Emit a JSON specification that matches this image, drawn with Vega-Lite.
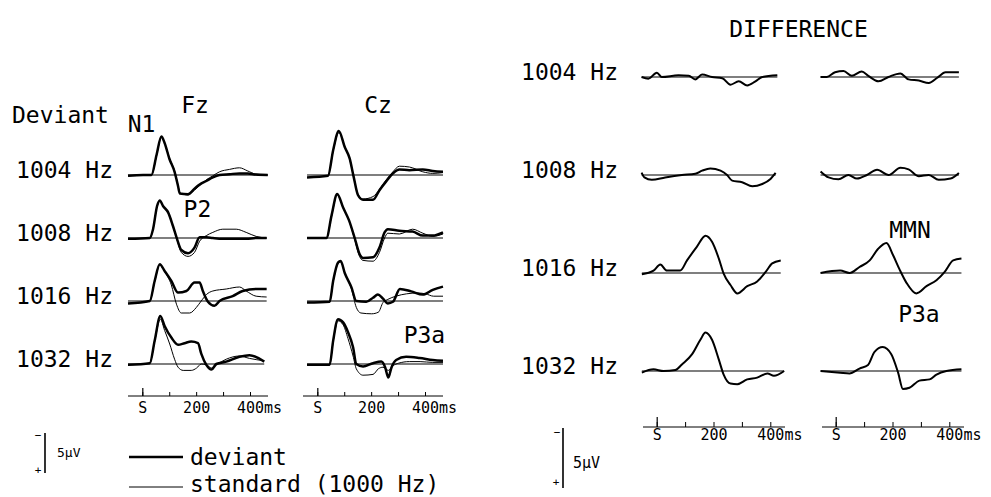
{
"$schema": "https://vega.github.io/schema/vega-lite/v6.json",
"padding": 0,
"background": "white",
"bounds": "flush",
"spacing": 0,
"config": {
  "view": {"stroke": null},
  "font": "DejaVu Sans Mono",
  "text": {"font": "DejaVu Sans Mono", "color": "black", "fontSize": 23}
},
"datasets": {
"erp": [
{"dev":"1004 Hz","elec":"Fz","cond":"deviant","t":-55,"v":0.1},{"dev":"1004 Hz","elec":"Fz","cond":"deviant","t":1,"v":0},{"dev":"1004 Hz","elec":"Fz","cond":"deviant","t":32,"v":0},{"dev":"1004 Hz","elec":"Fz","cond":"deviant","t":51,"v":-2.5},{"dev":"1004 Hz","elec":"Fz","cond":"deviant","t":69,"v":-4.8},{"dev":"1004 Hz","elec":"Fz","cond":"deviant","t":81,"v":-4.0},{"dev":"1004 Hz","elec":"Fz","cond":"deviant","t":99,"v":-2.0},{"dev":"1004 Hz","elec":"Fz","cond":"deviant","t":118,"v":-0.4},{"dev":"1004 Hz","elec":"Fz","cond":"deviant","t":131,"v":1.4},{"dev":"1004 Hz","elec":"Fz","cond":"deviant","t":137,"v":2.3},{"dev":"1004 Hz","elec":"Fz","cond":"deviant","t":168,"v":2.4},{"dev":"1004 Hz","elec":"Fz","cond":"deviant","t":192,"v":1.7},{"dev":"1004 Hz","elec":"Fz","cond":"deviant","t":211,"v":1.2},{"dev":"1004 Hz","elec":"Fz","cond":"deviant","t":236,"v":0.75},{"dev":"1004 Hz","elec":"Fz","cond":"deviant","t":260,"v":0.3},{"dev":"1004 Hz","elec":"Fz","cond":"deviant","t":285,"v":0},{"dev":"1004 Hz","elec":"Fz","cond":"deviant","t":322,"v":-0.1},{"dev":"1004 Hz","elec":"Fz","cond":"deviant","t":359,"v":-0.2},{"dev":"1004 Hz","elec":"Fz","cond":"deviant","t":390,"v":-0.2},{"dev":"1004 Hz","elec":"Fz","cond":"deviant","t":420,"v":-0.05},{"dev":"1004 Hz","elec":"Fz","cond":"deviant","t":464,"v":0},
{"dev":"1004 Hz","elec":"Fz","cond":"standard","t":-55,"v":0.1},{"dev":"1004 Hz","elec":"Fz","cond":"standard","t":1,"v":0},{"dev":"1004 Hz","elec":"Fz","cond":"standard","t":32,"v":0},{"dev":"1004 Hz","elec":"Fz","cond":"standard","t":51,"v":-2.4},{"dev":"1004 Hz","elec":"Fz","cond":"standard","t":69,"v":-4.7},{"dev":"1004 Hz","elec":"Fz","cond":"standard","t":81,"v":-4.0},{"dev":"1004 Hz","elec":"Fz","cond":"standard","t":99,"v":-2.1},{"dev":"1004 Hz","elec":"Fz","cond":"standard","t":118,"v":-0.5},{"dev":"1004 Hz","elec":"Fz","cond":"standard","t":131,"v":1.3},{"dev":"1004 Hz","elec":"Fz","cond":"standard","t":137,"v":2.2},{"dev":"1004 Hz","elec":"Fz","cond":"standard","t":168,"v":2.5},{"dev":"1004 Hz","elec":"Fz","cond":"standard","t":192,"v":1.9},{"dev":"1004 Hz","elec":"Fz","cond":"standard","t":211,"v":1.3},{"dev":"1004 Hz","elec":"Fz","cond":"standard","t":236,"v":0.6},{"dev":"1004 Hz","elec":"Fz","cond":"standard","t":260,"v":0.1},{"dev":"1004 Hz","elec":"Fz","cond":"standard","t":285,"v":-0.4},{"dev":"1004 Hz","elec":"Fz","cond":"standard","t":322,"v":-0.7},{"dev":"1004 Hz","elec":"Fz","cond":"standard","t":359,"v":-0.9},{"dev":"1004 Hz","elec":"Fz","cond":"standard","t":390,"v":-0.5},{"dev":"1004 Hz","elec":"Fz","cond":"standard","t":420,"v":-0.1},{"dev":"1004 Hz","elec":"Fz","cond":"standard","t":464,"v":0},
{"dev":"1008 Hz","elec":"Fz","cond":"deviant","t":-55,"v":0.1},{"dev":"1008 Hz","elec":"Fz","cond":"deviant","t":26,"v":0},{"dev":"1008 Hz","elec":"Fz","cond":"deviant","t":38,"v":-1.1},{"dev":"1008 Hz","elec":"Fz","cond":"deviant","t":53,"v":-4.0},{"dev":"1008 Hz","elec":"Fz","cond":"deviant","t":63,"v":-4.7},{"dev":"1008 Hz","elec":"Fz","cond":"deviant","t":75,"v":-4.0},{"dev":"1008 Hz","elec":"Fz","cond":"deviant","t":94,"v":-3.2},{"dev":"1008 Hz","elec":"Fz","cond":"deviant","t":112,"v":-1.5},{"dev":"1008 Hz","elec":"Fz","cond":"deviant","t":127,"v":0.1},{"dev":"1008 Hz","elec":"Fz","cond":"deviant","t":143,"v":1.5},{"dev":"1008 Hz","elec":"Fz","cond":"deviant","t":168,"v":1.9},{"dev":"1008 Hz","elec":"Fz","cond":"deviant","t":192,"v":1.2},{"dev":"1008 Hz","elec":"Fz","cond":"deviant","t":211,"v":-0.1},{"dev":"1008 Hz","elec":"Fz","cond":"deviant","t":236,"v":-0.1},{"dev":"1008 Hz","elec":"Fz","cond":"deviant","t":260,"v":0},{"dev":"1008 Hz","elec":"Fz","cond":"deviant","t":297,"v":0.1},{"dev":"1008 Hz","elec":"Fz","cond":"deviant","t":347,"v":0.1},{"dev":"1008 Hz","elec":"Fz","cond":"deviant","t":384,"v":0.1},{"dev":"1008 Hz","elec":"Fz","cond":"deviant","t":421,"v":0},{"dev":"1008 Hz","elec":"Fz","cond":"deviant","t":460,"v":0},
{"dev":"1008 Hz","elec":"Fz","cond":"standard","t":-55,"v":0.1},{"dev":"1008 Hz","elec":"Fz","cond":"standard","t":26,"v":0},{"dev":"1008 Hz","elec":"Fz","cond":"standard","t":38,"v":-1.1},{"dev":"1008 Hz","elec":"Fz","cond":"standard","t":53,"v":-4.0},{"dev":"1008 Hz","elec":"Fz","cond":"standard","t":63,"v":-4.7},{"dev":"1008 Hz","elec":"Fz","cond":"standard","t":75,"v":-4.0},{"dev":"1008 Hz","elec":"Fz","cond":"standard","t":94,"v":-3.2},{"dev":"1008 Hz","elec":"Fz","cond":"standard","t":112,"v":-1.5},{"dev":"1008 Hz","elec":"Fz","cond":"standard","t":127,"v":0.2},{"dev":"1008 Hz","elec":"Fz","cond":"standard","t":143,"v":1.8},{"dev":"1008 Hz","elec":"Fz","cond":"standard","t":168,"v":2.3},{"dev":"1008 Hz","elec":"Fz","cond":"standard","t":192,"v":1.8},{"dev":"1008 Hz","elec":"Fz","cond":"standard","t":211,"v":0.4},{"dev":"1008 Hz","elec":"Fz","cond":"standard","t":236,"v":-0.3},{"dev":"1008 Hz","elec":"Fz","cond":"standard","t":260,"v":-0.7},{"dev":"1008 Hz","elec":"Fz","cond":"standard","t":297,"v":-1.1},{"dev":"1008 Hz","elec":"Fz","cond":"standard","t":347,"v":-1.1},{"dev":"1008 Hz","elec":"Fz","cond":"standard","t":384,"v":-0.7},{"dev":"1008 Hz","elec":"Fz","cond":"standard","t":421,"v":-0.2},{"dev":"1008 Hz","elec":"Fz","cond":"standard","t":460,"v":0},
{"dev":"1016 Hz","elec":"Fz","cond":"deviant","t":-55,"v":0.3},{"dev":"1016 Hz","elec":"Fz","cond":"deviant","t":26,"v":0},{"dev":"1016 Hz","elec":"Fz","cond":"deviant","t":44,"v":-2.5},{"dev":"1016 Hz","elec":"Fz","cond":"deviant","t":63,"v":-4.6},{"dev":"1016 Hz","elec":"Fz","cond":"deviant","t":81,"v":-3.75},{"dev":"1016 Hz","elec":"Fz","cond":"deviant","t":106,"v":-2.5},{"dev":"1016 Hz","elec":"Fz","cond":"deviant","t":131,"v":-1.05},{"dev":"1016 Hz","elec":"Fz","cond":"deviant","t":162,"v":-1.25},{"dev":"1016 Hz","elec":"Fz","cond":"deviant","t":192,"v":-2.3},{"dev":"1016 Hz","elec":"Fz","cond":"deviant","t":211,"v":-2.3},{"dev":"1016 Hz","elec":"Fz","cond":"deviant","t":223,"v":-1.25},{"dev":"1016 Hz","elec":"Fz","cond":"deviant","t":242,"v":0.1},{"dev":"1016 Hz","elec":"Fz","cond":"deviant","t":266,"v":0.6},{"dev":"1016 Hz","elec":"Fz","cond":"deviant","t":285,"v":0},{"dev":"1016 Hz","elec":"Fz","cond":"deviant","t":334,"v":-0.6},{"dev":"1016 Hz","elec":"Fz","cond":"deviant","t":371,"v":-1.25},{"dev":"1016 Hz","elec":"Fz","cond":"deviant","t":421,"v":-1.5},{"dev":"1016 Hz","elec":"Fz","cond":"deviant","t":460,"v":-1.5},
{"dev":"1016 Hz","elec":"Fz","cond":"standard","t":-55,"v":0.3},{"dev":"1016 Hz","elec":"Fz","cond":"standard","t":26,"v":0},{"dev":"1016 Hz","elec":"Fz","cond":"standard","t":44,"v":-2.4},{"dev":"1016 Hz","elec":"Fz","cond":"standard","t":63,"v":-4.5},{"dev":"1016 Hz","elec":"Fz","cond":"standard","t":81,"v":-3.7},{"dev":"1016 Hz","elec":"Fz","cond":"standard","t":106,"v":-2.0},{"dev":"1016 Hz","elec":"Fz","cond":"standard","t":125,"v":0.4},{"dev":"1016 Hz","elec":"Fz","cond":"standard","t":143,"v":1.5},{"dev":"1016 Hz","elec":"Fz","cond":"standard","t":174,"v":1.5},{"dev":"1016 Hz","elec":"Fz","cond":"standard","t":199,"v":0.8},{"dev":"1016 Hz","elec":"Fz","cond":"standard","t":217,"v":0},{"dev":"1016 Hz","elec":"Fz","cond":"standard","t":236,"v":-0.8},{"dev":"1016 Hz","elec":"Fz","cond":"standard","t":260,"v":-1.25},{"dev":"1016 Hz","elec":"Fz","cond":"standard","t":310,"v":-1.5},{"dev":"1016 Hz","elec":"Fz","cond":"standard","t":359,"v":-1.75},{"dev":"1016 Hz","elec":"Fz","cond":"standard","t":384,"v":-1.25},{"dev":"1016 Hz","elec":"Fz","cond":"standard","t":421,"v":-0.6},{"dev":"1016 Hz","elec":"Fz","cond":"standard","t":460,"v":-0.5},
{"dev":"1032 Hz","elec":"Fz","cond":"deviant","t":-55,"v":0.1},{"dev":"1032 Hz","elec":"Fz","cond":"deviant","t":26,"v":-0.1},{"dev":"1032 Hz","elec":"Fz","cond":"deviant","t":44,"v":-2.9},{"dev":"1032 Hz","elec":"Fz","cond":"deviant","t":65,"v":-6.0},{"dev":"1032 Hz","elec":"Fz","cond":"deviant","t":81,"v":-4.75},{"dev":"1032 Hz","elec":"Fz","cond":"deviant","t":106,"v":-3.3},{"dev":"1032 Hz","elec":"Fz","cond":"deviant","t":131,"v":-2.4},{"dev":"1032 Hz","elec":"Fz","cond":"deviant","t":155,"v":-2.6},{"dev":"1032 Hz","elec":"Fz","cond":"deviant","t":180,"v":-2.8},{"dev":"1032 Hz","elec":"Fz","cond":"deviant","t":205,"v":-2.6},{"dev":"1032 Hz","elec":"Fz","cond":"deviant","t":217,"v":-1.3},{"dev":"1032 Hz","elec":"Fz","cond":"deviant","t":236,"v":0.1},{"dev":"1032 Hz","elec":"Fz","cond":"deviant","t":255,"v":0.7},{"dev":"1032 Hz","elec":"Fz","cond":"deviant","t":273,"v":0},{"dev":"1032 Hz","elec":"Fz","cond":"deviant","t":310,"v":-0.3},{"dev":"1032 Hz","elec":"Fz","cond":"deviant","t":359,"v":-0.9},{"dev":"1032 Hz","elec":"Fz","cond":"deviant","t":396,"v":-1.1},{"dev":"1032 Hz","elec":"Fz","cond":"deviant","t":451,"v":-0.3},
{"dev":"1032 Hz","elec":"Fz","cond":"standard","t":-55,"v":0.1},{"dev":"1032 Hz","elec":"Fz","cond":"standard","t":26,"v":-0.1},{"dev":"1032 Hz","elec":"Fz","cond":"standard","t":44,"v":-2.8},{"dev":"1032 Hz","elec":"Fz","cond":"standard","t":65,"v":-5.6},{"dev":"1032 Hz","elec":"Fz","cond":"standard","t":81,"v":-4.2},{"dev":"1032 Hz","elec":"Fz","cond":"standard","t":100,"v":-2.5},{"dev":"1032 Hz","elec":"Fz","cond":"standard","t":118,"v":-0.6},{"dev":"1032 Hz","elec":"Fz","cond":"standard","t":131,"v":0.4},{"dev":"1032 Hz","elec":"Fz","cond":"standard","t":150,"v":0.8},{"dev":"1032 Hz","elec":"Fz","cond":"standard","t":180,"v":0.8},{"dev":"1032 Hz","elec":"Fz","cond":"standard","t":200,"v":0.5},{"dev":"1032 Hz","elec":"Fz","cond":"standard","t":217,"v":0},{"dev":"1032 Hz","elec":"Fz","cond":"standard","t":236,"v":0.1},{"dev":"1032 Hz","elec":"Fz","cond":"standard","t":255,"v":0.5},{"dev":"1032 Hz","elec":"Fz","cond":"standard","t":273,"v":0.1},{"dev":"1032 Hz","elec":"Fz","cond":"standard","t":310,"v":-0.6},{"dev":"1032 Hz","elec":"Fz","cond":"standard","t":359,"v":-1.0},{"dev":"1032 Hz","elec":"Fz","cond":"standard","t":396,"v":-0.7},{"dev":"1032 Hz","elec":"Fz","cond":"standard","t":451,"v":-0.4},
{"dev":"1004 Hz","elec":"Cz","cond":"deviant","t":-40,"v":0.3},{"dev":"1004 Hz","elec":"Cz","cond":"deviant","t":38,"v":0.1},{"dev":"1004 Hz","elec":"Cz","cond":"deviant","t":57,"v":-3.1},{"dev":"1004 Hz","elec":"Cz","cond":"deviant","t":78,"v":-5.5},{"dev":"1004 Hz","elec":"Cz","cond":"deviant","t":100,"v":-3.5},{"dev":"1004 Hz","elec":"Cz","cond":"deviant","t":118,"v":-2.1},{"dev":"1004 Hz","elec":"Cz","cond":"deviant","t":133,"v":0.2},{"dev":"1004 Hz","elec":"Cz","cond":"deviant","t":149,"v":2.5},{"dev":"1004 Hz","elec":"Cz","cond":"deviant","t":168,"v":3.1},{"dev":"1004 Hz","elec":"Cz","cond":"deviant","t":205,"v":3.1},{"dev":"1004 Hz","elec":"Cz","cond":"deviant","t":229,"v":1.9},{"dev":"1004 Hz","elec":"Cz","cond":"deviant","t":254,"v":0.8},{"dev":"1004 Hz","elec":"Cz","cond":"deviant","t":279,"v":-0.2},{"dev":"1004 Hz","elec":"Cz","cond":"deviant","t":303,"v":-0.7},{"dev":"1004 Hz","elec":"Cz","cond":"deviant","t":340,"v":-0.6},{"dev":"1004 Hz","elec":"Cz","cond":"deviant","t":390,"v":-0.7},{"dev":"1004 Hz","elec":"Cz","cond":"deviant","t":427,"v":-0.5},{"dev":"1004 Hz","elec":"Cz","cond":"deviant","t":465,"v":-0.4},
{"dev":"1004 Hz","elec":"Cz","cond":"standard","t":-40,"v":0.3},{"dev":"1004 Hz","elec":"Cz","cond":"standard","t":38,"v":0.1},{"dev":"1004 Hz","elec":"Cz","cond":"standard","t":57,"v":-3.0},{"dev":"1004 Hz","elec":"Cz","cond":"standard","t":78,"v":-5.3},{"dev":"1004 Hz","elec":"Cz","cond":"standard","t":100,"v":-3.6},{"dev":"1004 Hz","elec":"Cz","cond":"standard","t":118,"v":-2.0},{"dev":"1004 Hz","elec":"Cz","cond":"standard","t":133,"v":0.2},{"dev":"1004 Hz","elec":"Cz","cond":"standard","t":149,"v":2.4},{"dev":"1004 Hz","elec":"Cz","cond":"standard","t":168,"v":3.0},{"dev":"1004 Hz","elec":"Cz","cond":"standard","t":205,"v":2.7},{"dev":"1004 Hz","elec":"Cz","cond":"standard","t":229,"v":1.8},{"dev":"1004 Hz","elec":"Cz","cond":"standard","t":254,"v":0.6},{"dev":"1004 Hz","elec":"Cz","cond":"standard","t":279,"v":-0.4},{"dev":"1004 Hz","elec":"Cz","cond":"standard","t":303,"v":-1.1},{"dev":"1004 Hz","elec":"Cz","cond":"standard","t":340,"v":-1.0},{"dev":"1004 Hz","elec":"Cz","cond":"standard","t":390,"v":-0.4},{"dev":"1004 Hz","elec":"Cz","cond":"standard","t":427,"v":-0.2},{"dev":"1004 Hz","elec":"Cz","cond":"standard","t":465,"v":-0.3},
{"dev":"1008 Hz","elec":"Cz","cond":"deviant","t":-40,"v":0},{"dev":"1008 Hz","elec":"Cz","cond":"deviant","t":32,"v":0},{"dev":"1008 Hz","elec":"Cz","cond":"deviant","t":51,"v":-2.8},{"dev":"1008 Hz","elec":"Cz","cond":"deviant","t":72,"v":-5.5},{"dev":"1008 Hz","elec":"Cz","cond":"deviant","t":94,"v":-3.8},{"dev":"1008 Hz","elec":"Cz","cond":"deviant","t":116,"v":-2.2},{"dev":"1008 Hz","elec":"Cz","cond":"deviant","t":137,"v":0},{"dev":"1008 Hz","elec":"Cz","cond":"deviant","t":155,"v":2.0},{"dev":"1008 Hz","elec":"Cz","cond":"deviant","t":168,"v":2.5},{"dev":"1008 Hz","elec":"Cz","cond":"deviant","t":205,"v":2.4},{"dev":"1008 Hz","elec":"Cz","cond":"deviant","t":229,"v":1.2},{"dev":"1008 Hz","elec":"Cz","cond":"deviant","t":248,"v":-0.7},{"dev":"1008 Hz","elec":"Cz","cond":"deviant","t":260,"v":-1.1},{"dev":"1008 Hz","elec":"Cz","cond":"deviant","t":303,"v":-0.9},{"dev":"1008 Hz","elec":"Cz","cond":"deviant","t":352,"v":-0.8},{"dev":"1008 Hz","elec":"Cz","cond":"deviant","t":390,"v":-0.3},{"dev":"1008 Hz","elec":"Cz","cond":"deviant","t":427,"v":-0.3},{"dev":"1008 Hz","elec":"Cz","cond":"deviant","t":465,"v":-0.7},
{"dev":"1008 Hz","elec":"Cz","cond":"standard","t":-40,"v":0},{"dev":"1008 Hz","elec":"Cz","cond":"standard","t":32,"v":0},{"dev":"1008 Hz","elec":"Cz","cond":"standard","t":51,"v":-2.7},{"dev":"1008 Hz","elec":"Cz","cond":"standard","t":72,"v":-5.4},{"dev":"1008 Hz","elec":"Cz","cond":"standard","t":94,"v":-3.8},{"dev":"1008 Hz","elec":"Cz","cond":"standard","t":116,"v":-2.2},{"dev":"1008 Hz","elec":"Cz","cond":"standard","t":137,"v":0.2},{"dev":"1008 Hz","elec":"Cz","cond":"standard","t":155,"v":2.3},{"dev":"1008 Hz","elec":"Cz","cond":"standard","t":168,"v":2.8},{"dev":"1008 Hz","elec":"Cz","cond":"standard","t":205,"v":2.9},{"dev":"1008 Hz","elec":"Cz","cond":"standard","t":229,"v":1.8},{"dev":"1008 Hz","elec":"Cz","cond":"standard","t":248,"v":0},{"dev":"1008 Hz","elec":"Cz","cond":"standard","t":260,"v":-0.6},{"dev":"1008 Hz","elec":"Cz","cond":"standard","t":303,"v":-0.5},{"dev":"1008 Hz","elec":"Cz","cond":"standard","t":352,"v":-1.1},{"dev":"1008 Hz","elec":"Cz","cond":"standard","t":390,"v":-0.6},{"dev":"1008 Hz","elec":"Cz","cond":"standard","t":427,"v":-0.2},{"dev":"1008 Hz","elec":"Cz","cond":"standard","t":465,"v":-0.5},
{"dev":"1016 Hz","elec":"Cz","cond":"deviant","t":-40,"v":0.2},{"dev":"1016 Hz","elec":"Cz","cond":"deviant","t":44,"v":0.1},{"dev":"1016 Hz","elec":"Cz","cond":"deviant","t":57,"v":-2.5},{"dev":"1016 Hz","elec":"Cz","cond":"deviant","t":75,"v":-4.8},{"dev":"1016 Hz","elec":"Cz","cond":"deviant","t":85,"v":-5.0},{"dev":"1016 Hz","elec":"Cz","cond":"deviant","t":100,"v":-3.5},{"dev":"1016 Hz","elec":"Cz","cond":"deviant","t":125,"v":-1.7},{"dev":"1016 Hz","elec":"Cz","cond":"deviant","t":143,"v":0},{"dev":"1016 Hz","elec":"Cz","cond":"deviant","t":180,"v":0.1},{"dev":"1016 Hz","elec":"Cz","cond":"deviant","t":205,"v":-0.4},{"dev":"1016 Hz","elec":"Cz","cond":"deviant","t":223,"v":-0.8},{"dev":"1016 Hz","elec":"Cz","cond":"deviant","t":242,"v":-0.3},{"dev":"1016 Hz","elec":"Cz","cond":"deviant","t":260,"v":0.3},{"dev":"1016 Hz","elec":"Cz","cond":"deviant","t":279,"v":0.1},{"dev":"1016 Hz","elec":"Cz","cond":"deviant","t":305,"v":-1.5},{"dev":"1016 Hz","elec":"Cz","cond":"deviant","t":347,"v":-1.2},{"dev":"1016 Hz","elec":"Cz","cond":"deviant","t":390,"v":-0.8},{"dev":"1016 Hz","elec":"Cz","cond":"deviant","t":427,"v":-1.4},{"dev":"1016 Hz","elec":"Cz","cond":"deviant","t":465,"v":-1.8},
{"dev":"1016 Hz","elec":"Cz","cond":"standard","t":-40,"v":0.2},{"dev":"1016 Hz","elec":"Cz","cond":"standard","t":44,"v":0.1},{"dev":"1016 Hz","elec":"Cz","cond":"standard","t":57,"v":-2.4},{"dev":"1016 Hz","elec":"Cz","cond":"standard","t":75,"v":-4.7},{"dev":"1016 Hz","elec":"Cz","cond":"standard","t":85,"v":-4.9},{"dev":"1016 Hz","elec":"Cz","cond":"standard","t":100,"v":-3.5},{"dev":"1016 Hz","elec":"Cz","cond":"standard","t":125,"v":-1.5},{"dev":"1016 Hz","elec":"Cz","cond":"standard","t":143,"v":0.8},{"dev":"1016 Hz","elec":"Cz","cond":"standard","t":160,"v":1.5},{"dev":"1016 Hz","elec":"Cz","cond":"standard","t":200,"v":1.6},{"dev":"1016 Hz","elec":"Cz","cond":"standard","t":225,"v":1.4},{"dev":"1016 Hz","elec":"Cz","cond":"standard","t":242,"v":0.2},{"dev":"1016 Hz","elec":"Cz","cond":"standard","t":260,"v":-0.2},{"dev":"1016 Hz","elec":"Cz","cond":"standard","t":290,"v":-0.6},{"dev":"1016 Hz","elec":"Cz","cond":"standard","t":330,"v":-0.9},{"dev":"1016 Hz","elec":"Cz","cond":"standard","t":370,"v":-1.0},{"dev":"1016 Hz","elec":"Cz","cond":"standard","t":400,"v":-0.9},{"dev":"1016 Hz","elec":"Cz","cond":"standard","t":430,"v":-0.6},{"dev":"1016 Hz","elec":"Cz","cond":"standard","t":465,"v":-0.6},
{"dev":"1032 Hz","elec":"Cz","cond":"deviant","t":-40,"v":0.1},{"dev":"1032 Hz","elec":"Cz","cond":"deviant","t":44,"v":0.1},{"dev":"1032 Hz","elec":"Cz","cond":"deviant","t":57,"v":-2.9},{"dev":"1032 Hz","elec":"Cz","cond":"deviant","t":75,"v":-5.6},{"dev":"1032 Hz","elec":"Cz","cond":"deviant","t":94,"v":-5.2},{"dev":"1032 Hz","elec":"Cz","cond":"deviant","t":112,"v":-4.0},{"dev":"1032 Hz","elec":"Cz","cond":"deviant","t":131,"v":-2.1},{"dev":"1032 Hz","elec":"Cz","cond":"deviant","t":143,"v":0},{"dev":"1032 Hz","elec":"Cz","cond":"deviant","t":168,"v":0.3},{"dev":"1032 Hz","elec":"Cz","cond":"deviant","t":205,"v":-0.1},{"dev":"1032 Hz","elec":"Cz","cond":"deviant","t":236,"v":-0.3},{"dev":"1032 Hz","elec":"Cz","cond":"deviant","t":250,"v":0.4},{"dev":"1032 Hz","elec":"Cz","cond":"deviant","t":262,"v":1.7},{"dev":"1032 Hz","elec":"Cz","cond":"deviant","t":273,"v":0.5},{"dev":"1032 Hz","elec":"Cz","cond":"deviant","t":291,"v":-0.5},{"dev":"1032 Hz","elec":"Cz","cond":"deviant","t":328,"v":-0.9},{"dev":"1032 Hz","elec":"Cz","cond":"deviant","t":378,"v":-0.75},{"dev":"1032 Hz","elec":"Cz","cond":"deviant","t":427,"v":-0.5},{"dev":"1032 Hz","elec":"Cz","cond":"deviant","t":465,"v":-0.4},
{"dev":"1032 Hz","elec":"Cz","cond":"standard","t":-40,"v":0.1},{"dev":"1032 Hz","elec":"Cz","cond":"standard","t":44,"v":0.1},{"dev":"1032 Hz","elec":"Cz","cond":"standard","t":57,"v":-2.8},{"dev":"1032 Hz","elec":"Cz","cond":"standard","t":75,"v":-5.4},{"dev":"1032 Hz","elec":"Cz","cond":"standard","t":94,"v":-4.9},{"dev":"1032 Hz","elec":"Cz","cond":"standard","t":112,"v":-3.2},{"dev":"1032 Hz","elec":"Cz","cond":"standard","t":131,"v":-1.0},{"dev":"1032 Hz","elec":"Cz","cond":"standard","t":143,"v":0.6},{"dev":"1032 Hz","elec":"Cz","cond":"standard","t":168,"v":1.4},{"dev":"1032 Hz","elec":"Cz","cond":"standard","t":205,"v":1.3},{"dev":"1032 Hz","elec":"Cz","cond":"standard","t":225,"v":0.6},{"dev":"1032 Hz","elec":"Cz","cond":"standard","t":242,"v":0.4},{"dev":"1032 Hz","elec":"Cz","cond":"standard","t":262,"v":0.8},{"dev":"1032 Hz","elec":"Cz","cond":"standard","t":280,"v":0.2},{"dev":"1032 Hz","elec":"Cz","cond":"standard","t":300,"v":-0.1},{"dev":"1032 Hz","elec":"Cz","cond":"standard","t":340,"v":-0.3},{"dev":"1032 Hz","elec":"Cz","cond":"standard","t":380,"v":-0.3},{"dev":"1032 Hz","elec":"Cz","cond":"standard","t":427,"v":-0.2},{"dev":"1032 Hz","elec":"Cz","cond":"standard","t":465,"v":-0.2}
],
"diff": [
{"dev":"1004 Hz","elec":"Fz","t":-55,"v":0},{"dev":"1004 Hz","elec":"Fz","t":-31,"v":0.14},{"dev":"1004 Hz","elec":"Fz","t":-1,"v":-0.36},{"dev":"1004 Hz","elec":"Fz","t":16,"v":0},{"dev":"1004 Hz","elec":"Fz","t":75,"v":-0.14},{"dev":"1004 Hz","elec":"Fz","t":111,"v":-0.1},{"dev":"1004 Hz","elec":"Fz","t":134,"v":0.2},{"dev":"1004 Hz","elec":"Fz","t":158,"v":-0.2},{"dev":"1004 Hz","elec":"Fz","t":193,"v":0},{"dev":"1004 Hz","elec":"Fz","t":229,"v":0.1},{"dev":"1004 Hz","elec":"Fz","t":258,"v":0.64},{"dev":"1004 Hz","elec":"Fz","t":287,"v":0.36},{"dev":"1004 Hz","elec":"Fz","t":317,"v":0.7},{"dev":"1004 Hz","elec":"Fz","t":346,"v":0.36},{"dev":"1004 Hz","elec":"Fz","t":370,"v":0},{"dev":"1004 Hz","elec":"Fz","t":423,"v":-0.14},
{"dev":"1004 Hz","elec":"Cz","t":-55,"v":0},{"dev":"1004 Hz","elec":"Cz","t":-33,"v":0},{"dev":"1004 Hz","elec":"Cz","t":-4,"v":-0.4},{"dev":"1004 Hz","elec":"Cz","t":26,"v":-0.5},{"dev":"1004 Hz","elec":"Cz","t":55,"v":-0.1},{"dev":"1004 Hz","elec":"Cz","t":90,"v":-0.45},{"dev":"1004 Hz","elec":"Cz","t":113,"v":-0.1},{"dev":"1004 Hz","elec":"Cz","t":149,"v":0.36},{"dev":"1004 Hz","elec":"Cz","t":184,"v":0},{"dev":"1004 Hz","elec":"Cz","t":226,"v":-0.3},{"dev":"1004 Hz","elec":"Cz","t":255,"v":0.2},{"dev":"1004 Hz","elec":"Cz","t":291,"v":0.3},{"dev":"1004 Hz","elec":"Cz","t":326,"v":0.5},{"dev":"1004 Hz","elec":"Cz","t":356,"v":0.06},{"dev":"1004 Hz","elec":"Cz","t":385,"v":-0.4},{"dev":"1004 Hz","elec":"Cz","t":432,"v":-0.4},
{"dev":"1008 Hz","elec":"Fz","t":-55,"v":-0.2},{"dev":"1008 Hz","elec":"Fz","t":-45,"v":0.2},{"dev":"1008 Hz","elec":"Fz","t":-19,"v":0.4},{"dev":"1008 Hz","elec":"Fz","t":28,"v":0.2},{"dev":"1008 Hz","elec":"Fz","t":87,"v":0},{"dev":"1008 Hz","elec":"Fz","t":134,"v":-0.1},{"dev":"1008 Hz","elec":"Fz","t":158,"v":-0.36},{"dev":"1008 Hz","elec":"Fz","t":187,"v":-0.55},{"dev":"1008 Hz","elec":"Fz","t":223,"v":-0.36},{"dev":"1008 Hz","elec":"Fz","t":246,"v":0},{"dev":"1008 Hz","elec":"Fz","t":264,"v":0.47},{"dev":"1008 Hz","elec":"Fz","t":299,"v":0.6},{"dev":"1008 Hz","elec":"Fz","t":335,"v":0.94},{"dev":"1008 Hz","elec":"Fz","t":370,"v":0.75},{"dev":"1008 Hz","elec":"Fz","t":399,"v":0.33},{"dev":"1008 Hz","elec":"Fz","t":417,"v":-0.17},
{"dev":"1008 Hz","elec":"Cz","t":-55,"v":-0.3},{"dev":"1008 Hz","elec":"Cz","t":-27,"v":0.2},{"dev":"1008 Hz","elec":"Cz","t":8,"v":0.36},{"dev":"1008 Hz","elec":"Cz","t":43,"v":0},{"dev":"1008 Hz","elec":"Cz","t":73,"v":0.3},{"dev":"1008 Hz","elec":"Cz","t":108,"v":0},{"dev":"1008 Hz","elec":"Cz","t":144,"v":-0.44},{"dev":"1008 Hz","elec":"Cz","t":184,"v":0},{"dev":"1008 Hz","elec":"Cz","t":226,"v":-0.6},{"dev":"1008 Hz","elec":"Cz","t":255,"v":-0.47},{"dev":"1008 Hz","elec":"Cz","t":291,"v":0.1},{"dev":"1008 Hz","elec":"Cz","t":326,"v":0},{"dev":"1008 Hz","elec":"Cz","t":361,"v":0.4},{"dev":"1008 Hz","elec":"Cz","t":403,"v":0.3},{"dev":"1008 Hz","elec":"Cz","t":432,"v":-0.17},
{"dev":"1016 Hz","elec":"Fz","t":-54,"v":0.1},{"dev":"1016 Hz","elec":"Fz","t":-13,"v":-0.2},{"dev":"1016 Hz","elec":"Fz","t":11,"v":-0.7},{"dev":"1016 Hz","elec":"Fz","t":34,"v":-0.2},{"dev":"1016 Hz","elec":"Fz","t":81,"v":-0.2},{"dev":"1016 Hz","elec":"Fz","t":105,"v":-1.05},{"dev":"1016 Hz","elec":"Fz","t":140,"v":-2.2},{"dev":"1016 Hz","elec":"Fz","t":170,"v":-3.1},{"dev":"1016 Hz","elec":"Fz","t":193,"v":-2.6},{"dev":"1016 Hz","elec":"Fz","t":217,"v":-1.2},{"dev":"1016 Hz","elec":"Fz","t":234,"v":0.06},{"dev":"1016 Hz","elec":"Fz","t":258,"v":1.0},{"dev":"1016 Hz","elec":"Fz","t":282,"v":1.7},{"dev":"1016 Hz","elec":"Fz","t":317,"v":1.1},{"dev":"1016 Hz","elec":"Fz","t":352,"v":0.7},{"dev":"1016 Hz","elec":"Fz","t":382,"v":-0.1},{"dev":"1016 Hz","elec":"Fz","t":405,"v":-0.8},{"dev":"1016 Hz","elec":"Fz","t":435,"v":-1.05},
{"dev":"1016 Hz","elec":"Cz","t":-55,"v":0},{"dev":"1016 Hz","elec":"Cz","t":14,"v":-0.2},{"dev":"1016 Hz","elec":"Cz","t":47,"v":0},{"dev":"1016 Hz","elec":"Cz","t":82,"v":-0.5},{"dev":"1016 Hz","elec":"Cz","t":118,"v":-1.05},{"dev":"1016 Hz","elec":"Cz","t":147,"v":-2.0},{"dev":"1016 Hz","elec":"Cz","t":177,"v":-2.5},{"dev":"1016 Hz","elec":"Cz","t":200,"v":-1.5},{"dev":"1016 Hz","elec":"Cz","t":223,"v":-0.3},{"dev":"1016 Hz","elec":"Cz","t":247,"v":0.8},{"dev":"1016 Hz","elec":"Cz","t":282,"v":1.7},{"dev":"1016 Hz","elec":"Cz","t":318,"v":1.1},{"dev":"1016 Hz","elec":"Cz","t":353,"v":0.6},{"dev":"1016 Hz","elec":"Cz","t":382,"v":-0.1},{"dev":"1016 Hz","elec":"Cz","t":412,"v":-1.05},{"dev":"1016 Hz","elec":"Cz","t":441,"v":-1.2},
{"dev":"1032 Hz","elec":"Fz","t":-54,"v":0.14},{"dev":"1032 Hz","elec":"Fz","t":-13,"v":-0.14},{"dev":"1032 Hz","elec":"Fz","t":22,"v":0},{"dev":"1032 Hz","elec":"Fz","t":64,"v":-0.08},{"dev":"1032 Hz","elec":"Fz","t":87,"v":-0.55},{"dev":"1032 Hz","elec":"Fz","t":123,"v":-1.4},{"dev":"1032 Hz","elec":"Fz","t":152,"v":-2.6},{"dev":"1032 Hz","elec":"Fz","t":170,"v":-3.2},{"dev":"1032 Hz","elec":"Fz","t":193,"v":-2.6},{"dev":"1032 Hz","elec":"Fz","t":217,"v":-0.95},{"dev":"1032 Hz","elec":"Fz","t":234,"v":0.3},{"dev":"1032 Hz","elec":"Fz","t":258,"v":1.05},{"dev":"1032 Hz","elec":"Fz","t":282,"v":1.1},{"dev":"1032 Hz","elec":"Fz","t":317,"v":0.7},{"dev":"1032 Hz","elec":"Fz","t":352,"v":0.55},{"dev":"1032 Hz","elec":"Fz","t":388,"v":0.2},{"dev":"1032 Hz","elec":"Fz","t":411,"v":0.4},{"dev":"1032 Hz","elec":"Fz","t":447,"v":0},
{"dev":"1032 Hz","elec":"Cz","t":-55,"v":0},{"dev":"1032 Hz","elec":"Cz","t":14,"v":0.14},{"dev":"1032 Hz","elec":"Cz","t":47,"v":0.2},{"dev":"1032 Hz","elec":"Cz","t":82,"v":-0.2},{"dev":"1032 Hz","elec":"Cz","t":112,"v":-0.5},{"dev":"1032 Hz","elec":"Cz","t":135,"v":-1.6},{"dev":"1032 Hz","elec":"Cz","t":164,"v":-2.0},{"dev":"1032 Hz","elec":"Cz","t":194,"v":-1.4},{"dev":"1032 Hz","elec":"Cz","t":218,"v":0.14},{"dev":"1032 Hz","elec":"Cz","t":235,"v":1.5},{"dev":"1032 Hz","elec":"Cz","t":258,"v":1.4},{"dev":"1032 Hz","elec":"Cz","t":293,"v":0.8},{"dev":"1032 Hz","elec":"Cz","t":329,"v":0.7},{"dev":"1032 Hz","elec":"Cz","t":353,"v":0.3},{"dev":"1032 Hz","elec":"Cz","t":388,"v":0},{"dev":"1032 Hz","elec":"Cz","t":441,"v":-0.14}
],
"ticks": [{"t": 0}, {"t": 100}, {"t": 200}, {"t": 300}, {"t": 400}],
"tickLabels": [{"t": 0, "label": "S"}, {"t": 200, "label": "200"}, {"t": 400, "label": "400ms"}]
},
"hconcat": [
{
"width": 500, "height": 396,
"resolve": {"scale": {"x": "independent", "y": "independent"}, "axis": {"x": "independent", "y": "independent"}},
"layer": [
{"data": {"name": "erp"}, "transform": [{"filter": "datum.dev === '1004 Hz' && datum.elec === 'Fz'"}], "layer": [
 {"mark": {"type": "line", "color": "black", "interpolate": "monotone"}, "encoding": {"x": {"field": "t", "type": "quantitative", "scale": {"domain": [-55, 465], "range": [128, 268], "nice": false, "zero": false}, "axis": null}, "y": {"field": "v", "type": "quantitative", "scale": {"domain": [-5, 5], "range": [135, 215], "nice": false, "zero": false}, "axis": null}, "strokeWidth": {"field": "cond", "type": "nominal", "scale": {"domain": ["deviant", "standard"], "range": [2.5, 1]}, "legend": null}}},
 {"mark": {"type": "rule", "color": "black", "strokeWidth": 1.2}, "encoding": {"x": {"aggregate": "min", "field": "t", "type": "quantitative", "axis": null}, "x2": {"aggregate": "max", "field": "t"}, "y": {"datum": 0, "axis": null}}},
 {"transform": [{"aggregate": [{"op": "count", "as": "n"}], "groupby": ["dev"]}], "mark": {"type": "text", "align": "right", "baseline": "alphabetic", "fontSize": 23}, "encoding": {"x": {"datum": -110.7, "axis": null}, "y": {"datum": 0.375, "axis": null}, "text": {"field": "dev"}}},
 {"transform": [{"aggregate": [{"op": "count", "as": "n"}], "groupby": ["elec"]}], "mark": {"type": "text", "align": "center", "baseline": "alphabetic", "fontSize": 23}, "encoding": {"x": {"datum": 193.9, "axis": null}, "y": {"datum": -7.75, "axis": null}, "text": {"field": "elec"}}},
 {"data": {"values": [{"label": "Deviant"}]}, "mark": {"type": "text", "align": "left", "baseline": "alphabetic", "fontSize": 23}, "encoding": {"x": {"datum": -485.8, "axis": null}, "y": {"datum": -6.5, "axis": null}, "text": {"field": "label"}}},
 {"data": {"values": [{"label": "N1"}]}, "mark": {"type": "text", "align": "center", "baseline": "alphabetic", "fontSize": 23}, "encoding": {"x": {"datum": -4.8, "axis": null}, "y": {"datum": -5.375, "axis": null}, "text": {"field": "label"}}}
]},
{"data": {"name": "erp"}, "transform": [{"filter": "datum.dev === '1004 Hz' && datum.elec === 'Cz'"}], "layer": [
 {"mark": {"type": "line", "color": "black", "interpolate": "monotone"}, "encoding": {"x": {"field": "t", "type": "quantitative", "scale": {"domain": [-55, 465], "range": [303, 443], "nice": false, "zero": false}, "axis": null}, "y": {"field": "v", "type": "quantitative", "scale": {"domain": [-5, 5], "range": [135, 215], "nice": false, "zero": false}, "axis": null}, "strokeWidth": {"field": "cond", "type": "nominal", "scale": {"domain": ["deviant", "standard"], "range": [2.5, 1]}, "legend": null}}},
 {"mark": {"type": "rule", "color": "black", "strokeWidth": 1.2}, "encoding": {"x": {"aggregate": "min", "field": "t", "type": "quantitative", "axis": null}, "x2": {"aggregate": "max", "field": "t"}, "y": {"datum": 0, "axis": null}}},
 {"transform": [{"aggregate": [{"op": "count", "as": "n"}], "groupby": ["elec"]}], "mark": {"type": "text", "align": "center", "baseline": "alphabetic", "fontSize": 23}, "encoding": {"x": {"datum": 223.6, "axis": null}, "y": {"datum": -7.75, "axis": null}, "text": {"field": "elec"}}}
]},
{"data": {"name": "erp"}, "transform": [{"filter": "datum.dev === '1008 Hz' && datum.elec === 'Fz'"}], "layer": [
 {"mark": {"type": "line", "color": "black", "interpolate": "monotone"}, "encoding": {"x": {"field": "t", "type": "quantitative", "scale": {"domain": [-55, 465], "range": [128, 268], "nice": false, "zero": false}, "axis": null}, "y": {"field": "v", "type": "quantitative", "scale": {"domain": [-5, 5], "range": [198, 278], "nice": false, "zero": false}, "axis": null}, "strokeWidth": {"field": "cond", "type": "nominal", "scale": {"domain": ["deviant", "standard"], "range": [2.5, 1]}, "legend": null}}},
 {"mark": {"type": "rule", "color": "black", "strokeWidth": 1.2}, "encoding": {"x": {"aggregate": "min", "field": "t", "type": "quantitative", "axis": null}, "x2": {"aggregate": "max", "field": "t"}, "y": {"datum": 0, "axis": null}}},
 {"transform": [{"aggregate": [{"op": "count", "as": "n"}], "groupby": ["dev"]}], "mark": {"type": "text", "align": "right", "baseline": "alphabetic", "fontSize": 23}, "encoding": {"x": {"datum": -110.7, "axis": null}, "y": {"datum": 0.375, "axis": null}, "text": {"field": "dev"}}},
 {"data": {"values": [{"label": "P2"}]}, "mark": {"type": "text", "align": "center", "baseline": "alphabetic", "fontSize": 23}, "encoding": {"x": {"datum": 203, "axis": null}, "y": {"datum": -2.625, "axis": null}, "text": {"field": "label"}}}
]},
{"data": {"name": "erp"}, "transform": [{"filter": "datum.dev === '1008 Hz' && datum.elec === 'Cz'"}], "layer": [
 {"mark": {"type": "line", "color": "black", "interpolate": "monotone"}, "encoding": {"x": {"field": "t", "type": "quantitative", "scale": {"domain": [-55, 465], "range": [303, 443], "nice": false, "zero": false}, "axis": null}, "y": {"field": "v", "type": "quantitative", "scale": {"domain": [-5, 5], "range": [198, 278], "nice": false, "zero": false}, "axis": null}, "strokeWidth": {"field": "cond", "type": "nominal", "scale": {"domain": ["deviant", "standard"], "range": [2.5, 1]}, "legend": null}}},
 {"mark": {"type": "rule", "color": "black", "strokeWidth": 1.2}, "encoding": {"x": {"aggregate": "min", "field": "t", "type": "quantitative", "axis": null}, "x2": {"aggregate": "max", "field": "t"}, "y": {"datum": 0, "axis": null}}}
]},
{"data": {"name": "erp"}, "transform": [{"filter": "datum.dev === '1016 Hz' && datum.elec === 'Fz'"}], "layer": [
 {"mark": {"type": "line", "color": "black", "interpolate": "monotone"}, "encoding": {"x": {"field": "t", "type": "quantitative", "scale": {"domain": [-55, 465], "range": [128, 268], "nice": false, "zero": false}, "axis": null}, "y": {"field": "v", "type": "quantitative", "scale": {"domain": [-5, 5], "range": [261, 341], "nice": false, "zero": false}, "axis": null}, "strokeWidth": {"field": "cond", "type": "nominal", "scale": {"domain": ["deviant", "standard"], "range": [2.5, 1]}, "legend": null}}},
 {"mark": {"type": "rule", "color": "black", "strokeWidth": 1.2}, "encoding": {"x": {"aggregate": "min", "field": "t", "type": "quantitative", "axis": null}, "x2": {"aggregate": "max", "field": "t"}, "y": {"datum": 0, "axis": null}}},
 {"transform": [{"aggregate": [{"op": "count", "as": "n"}], "groupby": ["dev"]}], "mark": {"type": "text", "align": "right", "baseline": "alphabetic", "fontSize": 23}, "encoding": {"x": {"datum": -110.7, "axis": null}, "y": {"datum": 0.375, "axis": null}, "text": {"field": "dev"}}}
]},
{"data": {"name": "erp"}, "transform": [{"filter": "datum.dev === '1016 Hz' && datum.elec === 'Cz'"}], "layer": [
 {"mark": {"type": "line", "color": "black", "interpolate": "monotone"}, "encoding": {"x": {"field": "t", "type": "quantitative", "scale": {"domain": [-55, 465], "range": [303, 443], "nice": false, "zero": false}, "axis": null}, "y": {"field": "v", "type": "quantitative", "scale": {"domain": [-5, 5], "range": [261, 341], "nice": false, "zero": false}, "axis": null}, "strokeWidth": {"field": "cond", "type": "nominal", "scale": {"domain": ["deviant", "standard"], "range": [2.5, 1]}, "legend": null}}},
 {"mark": {"type": "rule", "color": "black", "strokeWidth": 1.2}, "encoding": {"x": {"aggregate": "min", "field": "t", "type": "quantitative", "axis": null}, "x2": {"aggregate": "max", "field": "t"}, "y": {"datum": 0, "axis": null}}}
]},
{"data": {"name": "erp"}, "transform": [{"filter": "datum.dev === '1032 Hz' && datum.elec === 'Fz'"}], "layer": [
 {"mark": {"type": "line", "color": "black", "interpolate": "monotone"}, "encoding": {"x": {"field": "t", "type": "quantitative", "scale": {"domain": [-55, 465], "range": [128, 268], "nice": false, "zero": false}, "axis": null}, "y": {"field": "v", "type": "quantitative", "scale": {"domain": [-5, 5], "range": [324, 404], "nice": false, "zero": false}, "axis": null}, "strokeWidth": {"field": "cond", "type": "nominal", "scale": {"domain": ["deviant", "standard"], "range": [2.5, 1]}, "legend": null}}},
 {"mark": {"type": "rule", "color": "black", "strokeWidth": 1.2}, "encoding": {"x": {"aggregate": "min", "field": "t", "type": "quantitative", "axis": null}, "x2": {"aggregate": "max", "field": "t"}, "y": {"datum": 0, "axis": null}}},
 {"transform": [{"aggregate": [{"op": "count", "as": "n"}], "groupby": ["dev"]}], "mark": {"type": "text", "align": "right", "baseline": "alphabetic", "fontSize": 23}, "encoding": {"x": {"datum": -110.7, "axis": null}, "y": {"datum": 0.375, "axis": null}, "text": {"field": "dev"}}},
 {"data": {"values": [{"axis": "time (ms)"}]}, "mark": {"type": "rule", "color": "black", "strokeWidth": 1}, "encoding": {"x": {"datum": -55, "axis": null}, "x2": {"datum": 465}, "y": {"datum": 4.0, "axis": null}}},
 {"data": {"name": "ticks"}, "mark": {"type": "rule", "color": "black", "strokeWidth": 1}, "encoding": {"x": {"field": "t", "type": "quantitative", "axis": null}, "y": {"datum": 4.0, "axis": null}, "y2": {"datum": 3.5}}},
 {"data": {"name": "ticks"}, "transform": [{"filter": "datum.t === 0"}], "mark": {"type": "rule", "color": "black", "strokeWidth": 1.2}, "encoding": {"x": {"field": "t", "type": "quantitative", "axis": null}, "y": {"datum": 4.0, "axis": null}, "y2": {"datum": 3.0}}},
 {"data": {"name": "tickLabels"}, "transform": [{"filter": "datum.t < 400"}], "mark": {"type": "text", "align": "center", "baseline": "top", "fontSize": 15}, "encoding": {"x": {"field": "t", "type": "quantitative", "axis": null}, "y": {"datum": 4.625, "axis": null}, "text": {"field": "label"}}},
 {"data": {"name": "tickLabels"}, "transform": [{"filter": "datum.t === 400"}], "mark": {"type": "text", "align": "left", "baseline": "top", "fontSize": 15, "dx": -13.5}, "encoding": {"x": {"field": "t", "type": "quantitative", "axis": null}, "y": {"datum": 4.625, "axis": null}, "text": {"field": "label"}}},
 {"data": {"values": [{"cond": "deviant", "label": "deviant"}]}, "mark": {"type": "rule", "color": "black"}, "encoding": {"x": {"datum": -51.3, "axis": null}, "x2": {"datum": 149.3}, "y": {"datum": 11.625, "axis": null}, "strokeWidth": {"field": "cond", "type": "nominal", "legend": null}}},
 {"data": {"values": [{"cond": "standard", "label": "standard (1000 Hz)"}]}, "mark": {"type": "rule", "color": "black"}, "encoding": {"x": {"datum": -51.3, "axis": null}, "x2": {"datum": 149.3}, "y": {"datum": 15.375, "axis": null}, "strokeWidth": {"field": "cond", "type": "nominal", "legend": null}}},
 {"data": {"values": [{"cond": "deviant", "label": "deviant"}]}, "mark": {"type": "text", "align": "left", "baseline": "alphabetic", "fontSize": 23}, "encoding": {"x": {"datum": 175.3, "axis": null}, "y": {"datum": 12.625, "axis": null}, "text": {"field": "label"}}},
 {"data": {"values": [{"cond": "standard", "label": "standard (1000 Hz)"}]}, "mark": {"type": "text", "align": "left", "baseline": "alphabetic", "fontSize": 23}, "encoding": {"x": {"datum": 175.3, "axis": null}, "y": {"datum": 16.0, "axis": null}, "text": {"field": "label"}}},
 {"data": {"values": [{"label": "5µV"}]}, "mark": {"type": "rule", "color": "black", "strokeWidth": 1.6}, "encoding": {"x": {"datum": -363.3, "axis": null}, "y": {"datum": 8.625, "axis": null}, "y2": {"datum": 13.625}}},
 {"data": {"values": [{"label": "5µV"}]}, "mark": {"type": "text", "align": "left", "baseline": "middle", "fontSize": 13}, "encoding": {"x": {"datum": -318.7, "axis": null}, "y": {"datum": 11.125, "axis": null}, "text": {"field": "label"}}},
 {"data": {"values": [{"label": "−"}]}, "mark": {"type": "text", "align": "center", "baseline": "middle", "fontSize": 11}, "encoding": {"x": {"datum": -389, "axis": null}, "y": {"datum": 9.0, "axis": null}, "text": {"field": "label"}}},
 {"data": {"values": [{"label": "+"}]}, "mark": {"type": "text", "align": "center", "baseline": "middle", "fontSize": 11}, "encoding": {"x": {"datum": -389, "axis": null}, "y": {"datum": 13.375, "axis": null}, "text": {"field": "label"}}}
]},
{"data": {"name": "erp"}, "transform": [{"filter": "datum.dev === '1032 Hz' && datum.elec === 'Cz'"}], "layer": [
 {"mark": {"type": "line", "color": "black", "interpolate": "monotone"}, "encoding": {"x": {"field": "t", "type": "quantitative", "scale": {"domain": [-55, 465], "range": [303, 443], "nice": false, "zero": false}, "axis": null}, "y": {"field": "v", "type": "quantitative", "scale": {"domain": [-5, 5], "range": [324, 404], "nice": false, "zero": false}, "axis": null}, "strokeWidth": {"field": "cond", "type": "nominal", "scale": {"domain": ["deviant", "standard"], "range": [2.5, 1]}, "legend": null}}},
 {"mark": {"type": "rule", "color": "black", "strokeWidth": 1.2}, "encoding": {"x": {"aggregate": "min", "field": "t", "type": "quantitative", "axis": null}, "x2": {"aggregate": "max", "field": "t"}, "y": {"datum": 0, "axis": null}}},
 {"data": {"values": [{"label": "P3a"}]}, "mark": {"type": "text", "align": "center", "baseline": "alphabetic", "fontSize": 23}, "encoding": {"x": {"datum": 396, "axis": null}, "y": {"datum": -2.625, "axis": null}, "text": {"field": "label"}}},
 {"data": {"values": [{"axis": "time (ms)"}]}, "mark": {"type": "rule", "color": "black", "strokeWidth": 1}, "encoding": {"x": {"datum": -55, "axis": null}, "x2": {"datum": 465}, "y": {"datum": 4.0, "axis": null}}},
 {"data": {"name": "ticks"}, "mark": {"type": "rule", "color": "black", "strokeWidth": 1}, "encoding": {"x": {"field": "t", "type": "quantitative", "axis": null}, "y": {"datum": 4.0, "axis": null}, "y2": {"datum": 3.5}}},
 {"data": {"name": "ticks"}, "transform": [{"filter": "datum.t === 0"}], "mark": {"type": "rule", "color": "black", "strokeWidth": 1.2}, "encoding": {"x": {"field": "t", "type": "quantitative", "axis": null}, "y": {"datum": 4.0, "axis": null}, "y2": {"datum": 3.0}}},
 {"data": {"name": "tickLabels"}, "transform": [{"filter": "datum.t < 400"}], "mark": {"type": "text", "align": "center", "baseline": "top", "fontSize": 15}, "encoding": {"x": {"field": "t", "type": "quantitative", "axis": null}, "y": {"datum": 4.625, "axis": null}, "text": {"field": "label"}}},
 {"data": {"name": "tickLabels"}, "transform": [{"filter": "datum.t === 400"}], "mark": {"type": "text", "align": "left", "baseline": "top", "fontSize": 15, "dx": -13.5}, "encoding": {"x": {"field": "t", "type": "quantitative", "axis": null}, "y": {"datum": 4.625, "axis": null}, "text": {"field": "label"}}}
]}
]
},
{
"width": 491, "height": 427,
"resolve": {"scale": {"x": "independent", "y": "independent"}, "axis": {"x": "independent", "y": "independent"}},
"layer": [
{"data": {"name": "diff"}, "transform": [{"filter": "datum.dev === '1004 Hz' && datum.elec === 'Fz'"}], "layer": [
 {"mark": {"type": "line", "color": "black", "interpolate": "monotone", "strokeWidth": 2}, "encoding": {"x": {"field": "t", "type": "quantitative", "scale": {"domain": [-50, 450], "range": [143, 285], "nice": false, "zero": false}, "axis": null}, "y": {"field": "v", "type": "quantitative", "scale": {"domain": [-5, 5], "range": [17, 137], "nice": false, "zero": false}, "axis": null}}},
 {"mark": {"type": "rule", "color": "black", "strokeWidth": 1.2}, "encoding": {"x": {"aggregate": "min", "field": "t", "type": "quantitative", "axis": null}, "x2": {"aggregate": "max", "field": "t"}, "y": {"datum": 0, "axis": null}}},
 {"transform": [{"aggregate": [{"op": "count", "as": "n"}], "groupby": ["dev"]}], "mark": {"type": "text", "align": "right", "baseline": "alphabetic", "fontSize": 23}, "encoding": {"x": {"datum": -138, "axis": null}, "y": {"datum": 0.25, "axis": null}, "text": {"field": "dev"}}},
 {"data": {"values": [{"label": "DIFFERENCE"}]}, "mark": {"type": "text", "align": "center", "baseline": "alphabetic", "fontSize": 23}, "encoding": {"x": {"datum": 497.5, "axis": null}, "y": {"datum": -3.333, "axis": null}, "text": {"field": "label"}}}
]},
{"data": {"name": "diff"}, "transform": [{"filter": "datum.dev === '1004 Hz' && datum.elec === 'Cz'"}], "layer": [
 {"mark": {"type": "line", "color": "black", "interpolate": "monotone", "strokeWidth": 2}, "encoding": {"x": {"field": "t", "type": "quantitative", "scale": {"domain": [-50, 450], "range": [322, 464], "nice": false, "zero": false}, "axis": null}, "y": {"field": "v", "type": "quantitative", "scale": {"domain": [-5, 5], "range": [17, 137], "nice": false, "zero": false}, "axis": null}}},
 {"mark": {"type": "rule", "color": "black", "strokeWidth": 1.2}, "encoding": {"x": {"aggregate": "min", "field": "t", "type": "quantitative", "axis": null}, "x2": {"aggregate": "max", "field": "t"}, "y": {"datum": 0, "axis": null}}}
]},
{"data": {"name": "diff"}, "transform": [{"filter": "datum.dev === '1008 Hz' && datum.elec === 'Fz'"}], "layer": [
 {"mark": {"type": "line", "color": "black", "interpolate": "monotone", "strokeWidth": 2}, "encoding": {"x": {"field": "t", "type": "quantitative", "scale": {"domain": [-50, 450], "range": [143, 285], "nice": false, "zero": false}, "axis": null}, "y": {"field": "v", "type": "quantitative", "scale": {"domain": [-5, 5], "range": [115, 235], "nice": false, "zero": false}, "axis": null}}},
 {"mark": {"type": "rule", "color": "black", "strokeWidth": 1.2}, "encoding": {"x": {"aggregate": "min", "field": "t", "type": "quantitative", "axis": null}, "x2": {"aggregate": "max", "field": "t"}, "y": {"datum": 0, "axis": null}}},
 {"transform": [{"aggregate": [{"op": "count", "as": "n"}], "groupby": ["dev"]}], "mark": {"type": "text", "align": "right", "baseline": "alphabetic", "fontSize": 23}, "encoding": {"x": {"datum": -138, "axis": null}, "y": {"datum": 0.25, "axis": null}, "text": {"field": "dev"}}}
]},
{"data": {"name": "diff"}, "transform": [{"filter": "datum.dev === '1008 Hz' && datum.elec === 'Cz'"}], "layer": [
 {"mark": {"type": "line", "color": "black", "interpolate": "monotone", "strokeWidth": 2}, "encoding": {"x": {"field": "t", "type": "quantitative", "scale": {"domain": [-50, 450], "range": [322, 464], "nice": false, "zero": false}, "axis": null}, "y": {"field": "v", "type": "quantitative", "scale": {"domain": [-5, 5], "range": [115, 235], "nice": false, "zero": false}, "axis": null}}},
 {"mark": {"type": "rule", "color": "black", "strokeWidth": 1.2}, "encoding": {"x": {"aggregate": "min", "field": "t", "type": "quantitative", "axis": null}, "x2": {"aggregate": "max", "field": "t"}, "y": {"datum": 0, "axis": null}}}
]},
{"data": {"name": "diff"}, "transform": [{"filter": "datum.dev === '1016 Hz' && datum.elec === 'Fz'"}], "layer": [
 {"mark": {"type": "line", "color": "black", "interpolate": "monotone", "strokeWidth": 2}, "encoding": {"x": {"field": "t", "type": "quantitative", "scale": {"domain": [-50, 450], "range": [143, 285], "nice": false, "zero": false}, "axis": null}, "y": {"field": "v", "type": "quantitative", "scale": {"domain": [-5, 5], "range": [213, 333], "nice": false, "zero": false}, "axis": null}}},
 {"mark": {"type": "rule", "color": "black", "strokeWidth": 1.2}, "encoding": {"x": {"aggregate": "min", "field": "t", "type": "quantitative", "axis": null}, "x2": {"aggregate": "max", "field": "t"}, "y": {"datum": 0, "axis": null}}},
 {"transform": [{"aggregate": [{"op": "count", "as": "n"}], "groupby": ["dev"]}], "mark": {"type": "text", "align": "right", "baseline": "alphabetic", "fontSize": 23}, "encoding": {"x": {"datum": -138, "axis": null}, "y": {"datum": 0.25, "axis": null}, "text": {"field": "dev"}}}
]},
{"data": {"name": "diff"}, "transform": [{"filter": "datum.dev === '1016 Hz' && datum.elec === 'Cz'"}], "layer": [
 {"mark": {"type": "line", "color": "black", "interpolate": "monotone", "strokeWidth": 2}, "encoding": {"x": {"field": "t", "type": "quantitative", "scale": {"domain": [-50, 450], "range": [322, 464], "nice": false, "zero": false}, "axis": null}, "y": {"field": "v", "type": "quantitative", "scale": {"domain": [-5, 5], "range": [213, 333], "nice": false, "zero": false}, "axis": null}}},
 {"mark": {"type": "rule", "color": "black", "strokeWidth": 1.2}, "encoding": {"x": {"aggregate": "min", "field": "t", "type": "quantitative", "axis": null}, "x2": {"aggregate": "max", "field": "t"}, "y": {"datum": 0, "axis": null}}},
 {"data": {"values": [{"label": "MMN"}]}, "mark": {"type": "text", "align": "center", "baseline": "alphabetic", "fontSize": 23}, "encoding": {"x": {"datum": 259.9, "axis": null}, "y": {"datum": -2.917, "axis": null}, "text": {"field": "label"}}},
 {"data": {"values": [{"label": "P3a"}]}, "mark": {"type": "text", "align": "center", "baseline": "alphabetic", "fontSize": 23}, "encoding": {"x": {"datum": 291.2, "axis": null}, "y": {"datum": 4.083, "axis": null}, "text": {"field": "label"}}}
]},
{"data": {"name": "diff"}, "transform": [{"filter": "datum.dev === '1032 Hz' && datum.elec === 'Fz'"}], "layer": [
 {"mark": {"type": "line", "color": "black", "interpolate": "monotone", "strokeWidth": 2}, "encoding": {"x": {"field": "t", "type": "quantitative", "scale": {"domain": [-50, 450], "range": [143, 285], "nice": false, "zero": false}, "axis": null}, "y": {"field": "v", "type": "quantitative", "scale": {"domain": [-5, 5], "range": [311, 431], "nice": false, "zero": false}, "axis": null}}},
 {"mark": {"type": "rule", "color": "black", "strokeWidth": 1.2}, "encoding": {"x": {"aggregate": "min", "field": "t", "type": "quantitative", "axis": null}, "x2": {"aggregate": "max", "field": "t"}, "y": {"datum": 0, "axis": null}}},
 {"transform": [{"aggregate": [{"op": "count", "as": "n"}], "groupby": ["dev"]}], "mark": {"type": "text", "align": "right", "baseline": "alphabetic", "fontSize": 23}, "encoding": {"x": {"datum": -138, "axis": null}, "y": {"datum": 0.25, "axis": null}, "text": {"field": "dev"}}},
 {"data": {"values": [{"axis": "time (ms)"}]}, "mark": {"type": "rule", "color": "black", "strokeWidth": 1}, "encoding": {"x": {"datum": -50, "axis": null}, "x2": {"datum": 450}, "y": {"datum": 4.667, "axis": null}}},
 {"data": {"name": "ticks"}, "mark": {"type": "rule", "color": "black", "strokeWidth": 1}, "encoding": {"x": {"field": "t", "type": "quantitative", "axis": null}, "y": {"datum": 4.667, "axis": null}, "y2": {"datum": 4.25}}},
 {"data": {"name": "ticks"}, "transform": [{"filter": "datum.t === 0"}], "mark": {"type": "rule", "color": "black", "strokeWidth": 1.2}, "encoding": {"x": {"field": "t", "type": "quantitative", "axis": null}, "y": {"datum": 4.667, "axis": null}, "y2": {"datum": 3.833}}},
 {"data": {"name": "tickLabels"}, "transform": [{"filter": "datum.t < 400"}], "mark": {"type": "text", "align": "center", "baseline": "top", "fontSize": 15}, "encoding": {"x": {"field": "t", "type": "quantitative", "axis": null}, "y": {"datum": 4.75, "axis": null}, "text": {"field": "label"}}},
 {"data": {"name": "tickLabels"}, "transform": [{"filter": "datum.t === 400"}], "mark": {"type": "text", "align": "left", "baseline": "top", "fontSize": 15, "dx": -13.5}, "encoding": {"x": {"field": "t", "type": "quantitative", "axis": null}, "y": {"datum": 4.75, "axis": null}, "text": {"field": "label"}}},
 {"data": {"values": [{"label": "5µV"}]}, "mark": {"type": "rule", "color": "black", "strokeWidth": 1.6}, "encoding": {"x": {"datum": -331.7, "axis": null}, "y": {"datum": 4.75, "axis": null}, "y2": {"datum": 9.75}}},
 {"data": {"values": [{"label": "5µV"}]}, "mark": {"type": "text", "align": "left", "baseline": "middle", "fontSize": 15}, "encoding": {"x": {"datum": -296.5, "axis": null}, "y": {"datum": 7.667, "axis": null}, "text": {"field": "label"}}},
 {"data": {"values": [{"label": "−"}]}, "mark": {"type": "text", "align": "center", "baseline": "middle", "fontSize": 11}, "encoding": {"x": {"datum": -352.8, "axis": null}, "y": {"datum": 5.167, "axis": null}, "text": {"field": "label"}}},
 {"data": {"values": [{"label": "+"}]}, "mark": {"type": "text", "align": "center", "baseline": "middle", "fontSize": 11}, "encoding": {"x": {"datum": -356.3, "axis": null}, "y": {"datum": 9.333, "axis": null}, "text": {"field": "label"}}}
]},
{"data": {"name": "diff"}, "transform": [{"filter": "datum.dev === '1032 Hz' && datum.elec === 'Cz'"}], "layer": [
 {"mark": {"type": "line", "color": "black", "interpolate": "monotone", "strokeWidth": 2}, "encoding": {"x": {"field": "t", "type": "quantitative", "scale": {"domain": [-50, 450], "range": [322, 464], "nice": false, "zero": false}, "axis": null}, "y": {"field": "v", "type": "quantitative", "scale": {"domain": [-5, 5], "range": [311, 431], "nice": false, "zero": false}, "axis": null}}},
 {"mark": {"type": "rule", "color": "black", "strokeWidth": 1.2}, "encoding": {"x": {"aggregate": "min", "field": "t", "type": "quantitative", "axis": null}, "x2": {"aggregate": "max", "field": "t"}, "y": {"datum": 0, "axis": null}}},
 {"data": {"values": [{"axis": "time (ms)"}]}, "mark": {"type": "rule", "color": "black", "strokeWidth": 1}, "encoding": {"x": {"datum": -50, "axis": null}, "x2": {"datum": 450}, "y": {"datum": 4.667, "axis": null}}},
 {"data": {"name": "ticks"}, "mark": {"type": "rule", "color": "black", "strokeWidth": 1}, "encoding": {"x": {"field": "t", "type": "quantitative", "axis": null}, "y": {"datum": 4.667, "axis": null}, "y2": {"datum": 4.25}}},
 {"data": {"name": "ticks"}, "transform": [{"filter": "datum.t === 0"}], "mark": {"type": "rule", "color": "black", "strokeWidth": 1.2}, "encoding": {"x": {"field": "t", "type": "quantitative", "axis": null}, "y": {"datum": 4.667, "axis": null}, "y2": {"datum": 3.833}}},
 {"data": {"name": "tickLabels"}, "transform": [{"filter": "datum.t < 400"}], "mark": {"type": "text", "align": "center", "baseline": "top", "fontSize": 15}, "encoding": {"x": {"field": "t", "type": "quantitative", "axis": null}, "y": {"datum": 4.75, "axis": null}, "text": {"field": "label"}}},
 {"data": {"name": "tickLabels"}, "transform": [{"filter": "datum.t === 400"}], "mark": {"type": "text", "align": "left", "baseline": "top", "fontSize": 15, "dx": -13.5}, "encoding": {"x": {"field": "t", "type": "quantitative", "axis": null}, "y": {"datum": 4.75, "axis": null}, "text": {"field": "label"}}}
]}
]
}
]
}
